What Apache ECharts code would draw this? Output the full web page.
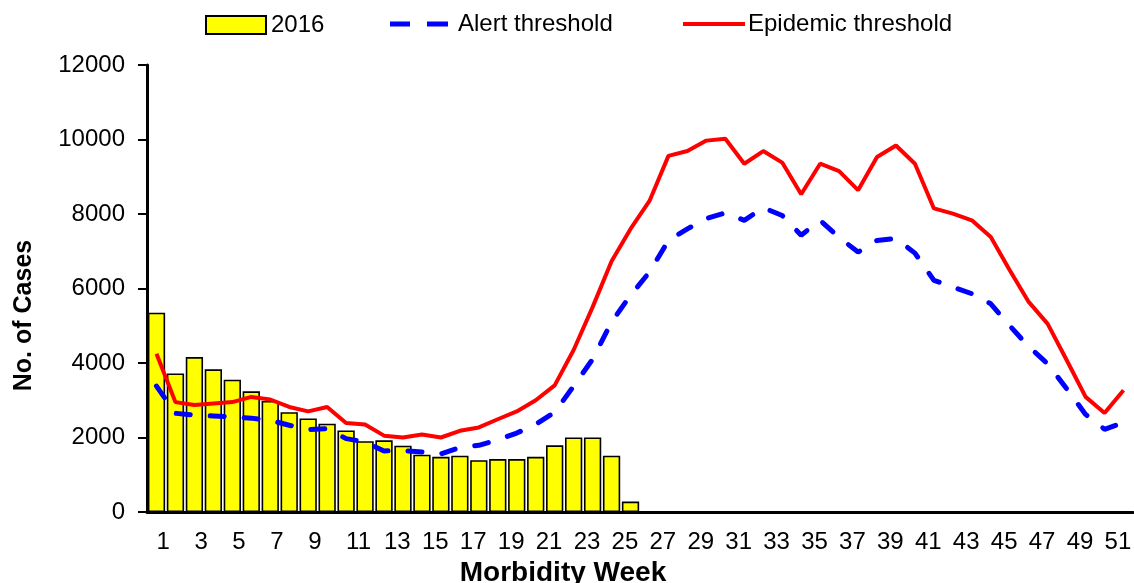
<!DOCTYPE html>
<html><head><meta charset="utf-8">
<script src="https://cdn.jsdelivr.net/npm/echarts@6/dist/echarts.min.js"></script>
<style>html,body{margin:0;padding:0;background:#fff}#c{width:1134px;height:583px}</style>
</head><body><div id="c"></div>
<script>
const weeks = ['1','2','3','4','5','6','7','8','9','10','11','12','13','14','15','16','17','18','19','20','21','22','23','24','25','26',
  '27','28','29','30','31','32','33','34','35','36','37','38','39','40','41','42','43','44','45','46','47','48','49','50','51','52'];
const cases2016 = [5350, 3720, 4160, 3830, 3550, 3240, 2980, 2680, 2510, 2370, 2190, 1900, 1925,
  1780, 1540, 1480, 1510, 1390, 1420, 1420, 1480, 1790, 2000, 2000, 1510, 280];
const alertThreshold = [3380, 2650, 2600, 2580, 2550, 2520, 2460, 2330, 2210, 2240, 1970, 1880, 1640,
  1650, 1610, 1560, 1730, 1790, 1940, 2120, 2350, 2680, 3380, 4100, 5100, 5820,
  6440, 7290, 7600, 7880, 8030, 7830, 8170, 7960, 7430, 7830, 7370, 6980, 7290,
  7340, 6950, 6220, 6040, 5860, 5590, 5000, 4440, 3980, 3310, 2620, 2220, 2400];
const epidemicThreshold = [4250, 2950, 2870, 2910, 2950, 3090, 3020, 2820, 2700, 2820, 2390, 2350, 2050,
  2000, 2080, 2000, 2180, 2270, 2490, 2700, 3000, 3400, 4350, 5500, 6730, 7600,
  8350, 9560, 9690, 9970, 10020, 9350, 9690, 9380, 8530, 9350, 9150, 8640, 9530,
  9840, 9350, 8150, 8010, 7830, 7380, 6490, 5640, 5050, 4080, 3090, 2660, 3270];
const yMin = 0, yMax = 12000, yStep = 2000;

const font = '"Liberation Sans", Arial, sans-serif';
const chart = echarts.init(document.getElementById('c'), null, {renderer: 'canvas'});
const legendText = {fontSize: 24, color: '#000', fontFamily: font};
chart.setOption({
  animation: false,
  backgroundColor: '#fff',
  legend: [
    {left: 205, top: 13, padding: 0, data: [{name: '2016', icon: 'rect'}], itemWidth: 60, itemHeight: 18, textStyle: legendText},
    {left: 390, top: 12, padding: 0, data: [{name: 'Alert threshold', icon: 'path://M0,0h20v5h-20zM37,0h21v5h-21z'}],
      itemWidth: 58, itemHeight: 5, textStyle: Object.assign({padding: [0, 0, 0, 5]}, legendText)},
    {left: 683, top: 12, padding: 0, data: [{name: 'Epidemic threshold', icon: 'rect'}], itemWidth: 62, itemHeight: 4,
      textStyle: Object.assign({padding: [0, 0, 0, -2]}, legendText)}
  ],
  grid: {left: 147, top: 65, width: 986, height: 447, containLabel: false, outerBoundsMode: 'none'},
  xAxis: {
    type: 'category', data: weeks, boundaryGap: true,
    axisLine: {lineStyle: {color: '#000', width: 3}},
    axisTick: {show: false},
    axisLabel: {interval: 1, align: 'left', margin: 18, fontSize: 24, color: '#000', fontFamily: font},
    name: 'Morbidity Week', nameLocation: 'middle', nameGap: 40,
    nameTextStyle: {fontWeight: 'bold', fontSize: 28, color: '#000', fontFamily: font, padding: [0, 154, 0, 0]}
  },
  yAxis: {
    type: 'value', min: yMin, max: yMax, interval: yStep,
    axisLine: {show: true, lineStyle: {color: '#000', width: 3}},
    axisTick: {show: true, length: 9, lineStyle: {width: 2, color: '#000'}},
    splitLine: {show: false},
    axisLabel: {margin: 22, fontSize: 24, color: '#000', fontFamily: font, formatter: v => String(v)},
    name: 'No. of Cases', nameLocation: 'middle', nameGap: 110,
    nameTextStyle: {fontWeight: 'bold', fontSize: 25, color: '#000', fontFamily: font, padding: [0, 54, 0, 0]}
  },
  series: [
    {name: '2016', type: 'bar', data: cases2016, barWidth: 17.3,
      itemStyle: {color: '#ffff00', borderColor: '#000', borderWidth: 1.6}},
    {name: 'Alert threshold', type: 'line', data: alertThreshold, symbol: 'none',
      lineStyle: {color: '#0000ff', width: 5, type: [14, 20], cap: 'round'}, itemStyle: {color: '#0000ff'}},
    {name: 'Epidemic threshold', type: 'line', data: epidemicThreshold, symbol: 'none',
      lineStyle: {color: '#ff0000', width: 4}, itemStyle: {color: '#ff0000'}}
  ]
});
</script></body></html>
